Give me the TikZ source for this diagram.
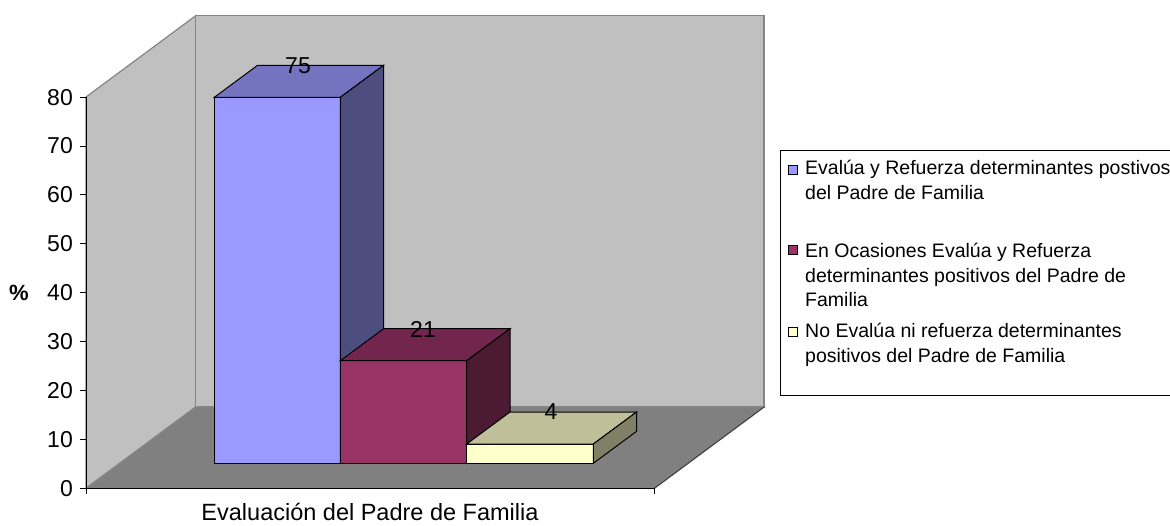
\documentclass[tikz,border=0pt]{standalone}
\usepackage{fontspec}
\setmainfont{Liberation Sans}
\definecolor{wallc}{HTML}{C0C0C0}
\definecolor{floorc}{HTML}{808080}
\definecolor{edgec}{HTML}{858585}
\definecolor{bAf}{HTML}{9999FF}\definecolor{bAt}{HTML}{7373BF}\definecolor{bAs}{HTML}{4D4D80}
\definecolor{bBf}{HTML}{993366}\definecolor{bBt}{HTML}{73264D}\definecolor{bBs}{HTML}{4D1A33}
\definecolor{bCf}{HTML}{FFFFCC}\definecolor{bCt}{HTML}{BFBF99}\definecolor{bCs}{HTML}{808066}
\newcommand\drawbar[6]{%
  \filldraw[barline,fill=#4] (#1,#3) rectangle (#2,463.3);
  \filldraw[barline,fill=#5] (#1,#3) -- (#2,#3) -- ({#2+43.3},{#3-32}) -- ({#1+43.3},{#3-32}) -- cycle;
  \filldraw[barline,fill=#6] (#2,#3) -- ({#2+43.3},{#3-32}) -- ({#2+43.3},431.3) -- (#2,463.3) -- cycle;
}
\begin{document}
\begin{tikzpicture}[x=1pt,y=-1pt,
  barline/.style={draw=black,line width=1pt,line join=miter},
  wall/.style={fill=wallc,draw=edgec,line width=1.2pt},
  axisline/.style={draw=black,line width=1pt},
  ticklab/.style={anchor=east,inner sep=0pt,font=\fontsize{23}{27}\selectfont},
  vallab/.style={anchor=center,inner sep=0pt,font=\fontsize{23}{27}\selectfont},
  legtext/.style={anchor=base west,inner sep=0pt,align=left,font=\fontsize{19.5}{24.5}\selectfont},
  legsq/.style={draw=black,line width=0.8pt,minimum size=9pt,inner sep=0pt}]
\useasboundingbox (0,0) rectangle (1170,525);
\clip (0,0) rectangle (1170,525);
\fill[white] (0,0) rectangle (1170,525);
% walls and floor
\filldraw[wall] (86,97) -- (195.7,15.7) -- (195.7,407) -- (86,488.3) -- cycle;
\filldraw[wall] (195.7,15.7) rectangle (764,407);
\filldraw[fill=floorc,draw=edgec,line width=1.2pt] (86,488.3) -- (654.3,488.3) -- (764,407) -- (195.7,407) -- cycle;
\draw[draw=black!75,line width=1pt] (654.3,488.3) -- (764,407);
% axes
\draw[axisline] (86,97.1) -- (86,494);
\draw[axisline] (86,488.3) -- (654.3,488.3) -- (654.3,494);
\foreach \v [count=\i from 0] in {0,10,20,30,40,50,60,70,80} {
  \draw[axisline] (80,{488.3-48.9*\i}) -- (86,{488.3-48.9*\i});
  \node[ticklab] (tick\v) at (73,{488.3-48.9*\i}) {\v};
}
\node[anchor=center,inner sep=0pt,font=\bfseries\fontsize{22}{26}\selectfont] (pct) at (19,293) {\%};
% bars
\drawbar{214.3}{340.3}{97.3}{bAf}{bAt}{bAs}
\drawbar{340.3}{466.7}{360.7}{bBf}{bBt}{bBs}
\drawbar{466.7}{593.3}{444}{bCf}{bCt}{bCs}
\node[vallab] (v75) at (298,66) {75};
\node[vallab] (v21) at (423,329) {21};
\node[vallab] (v4) at (551,412) {4};
% axis title
\node[anchor=base,inner sep=0pt,font=\fontsize{23.5}{28}\selectfont] (xtitle) at (370,520) {Evaluación del Padre de Familia};
% legend
\draw[draw=black,line width=1pt,fill=white] (780.7,150.7) rectangle (1200,395.7);
\node[legsq,fill=bAf] (sqA) at (793,169.7) {};
\node[legtext] (legA) at (805,199) {Evalúa y Refuerza determinantes postivos\\del Padre de Familia};
\node[legsq,fill=bBf] (sqB) at (793,250) {};
\node[legtext] (legB) at (805,306.5) {En Ocasiones Evalúa y Refuerza\\determinantes positivos del Padre de\\Familia};
\node[legsq,fill=bCf] (sqC) at (793,332) {};
\node[legtext] (legC) at (805,362) {No Evalúa ni refuerza determinantes\\positivos del Padre de Familia};
\end{tikzpicture}
\end{document}
